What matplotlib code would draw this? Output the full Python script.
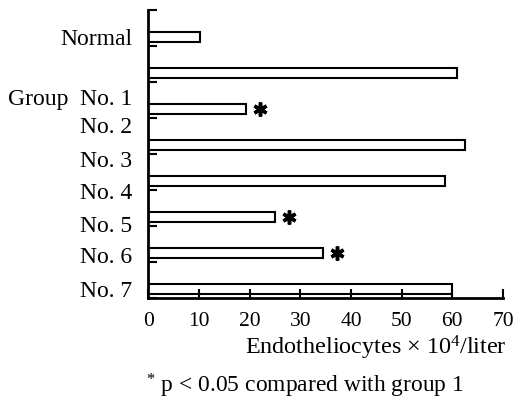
import matplotlib
matplotlib.use('Agg')
import matplotlib.pyplot as plt
import matplotlib.transforms as mtransforms

# ---- data ----
categories = ["Normal", "Group  No. 1", "No. 2", "No. 3", "No. 4", "No. 5", "No. 6", "No. 7"]
values = [10.1, 61.0, 19.3, 62.5, 58.5, 24.9, 34.5, 60.0]
significant = [False, False, True, False, False, True, True, False]
x_ticks = [0, 10, 20, 30, 40, 50, 60, 70]
x_label = "Endotheliocytes × 10$^{4}$/liter"
footnote = "$^{*}$ p < 0.05 compared with group 1"

# ---- style ----
plt.rcParams['font.family'] = ['Liberation Serif', 'DejaVu Serif']
plt.rcParams['mathtext.fontset'] = 'custom'
plt.rcParams['mathtext.rm'] = 'Liberation Serif'
plt.rcParams['mathtext.it'] = 'Liberation Serif:italic'
plt.rcParams['mathtext.bf'] = 'Liberation Serif:bold'

fig = plt.figure(figsize=(5.17, 4.07), dpi=100)
ax = fig.add_axes([0.2872, 0.2678, 0.6857, 0.7076])

n = len(categories)
bar_pos = [n - 1 - i + 0.25 for i in range(n)]
ax.barh(bar_pos, values, height=0.26, color='white', edgecolor='black', linewidth=1.5)

# significance asterisks
for v, p, s in zip(values, bar_pos, significant):
    if s:
        ax.plot(v + 2.8, p, marker=(6, 2, 0), ms=10, mew=2.5, color='black', clip_on=False)

# category labels (baseline positions, independent of bars)
label_baselines = [7.03, 5.36, 4.58, 3.64, 2.75, 1.83, 0.97, 0.03]
trans = mtransforms.blended_transform_factory(ax.transAxes, ax.transData)
for lab, yb in zip(categories, label_baselines):
    ax.text(-0.045, yb, lab, transform=trans, ha='right', va='baseline', fontsize=17)

ax.set_xlim(0, 70)
ax.set_ylim(0, 8)
ax.set_xticks(x_ticks)
ax.set_xticklabels([str(t) for t in x_ticks], fontsize=15.5)
ax.set_yticks(range(0, 9))
ax.set_yticklabels([])
ax.tick_params(axis='both', direction='in', length=6.5, width=1.5)
ax.tick_params(axis='x', pad=10)
for t in ax.xaxis.get_major_ticks() + ax.yaxis.get_major_ticks():
    t.tick1line.set_clip_on(False)

for s in ['top', 'right']:
    ax.spines[s].set_visible(False)
for s in ['left', 'bottom']:
    ax.spines[s].set_linewidth(2)

fig.text(507 / 517, 1 - 354 / 407, x_label, ha='right', va='baseline', fontsize=17.4)
fig.text(146 / 517, 1 - 392 / 407, footnote, ha='left', va='baseline', fontsize=16.9)

fig.savefig('out.png', dpi=100)
